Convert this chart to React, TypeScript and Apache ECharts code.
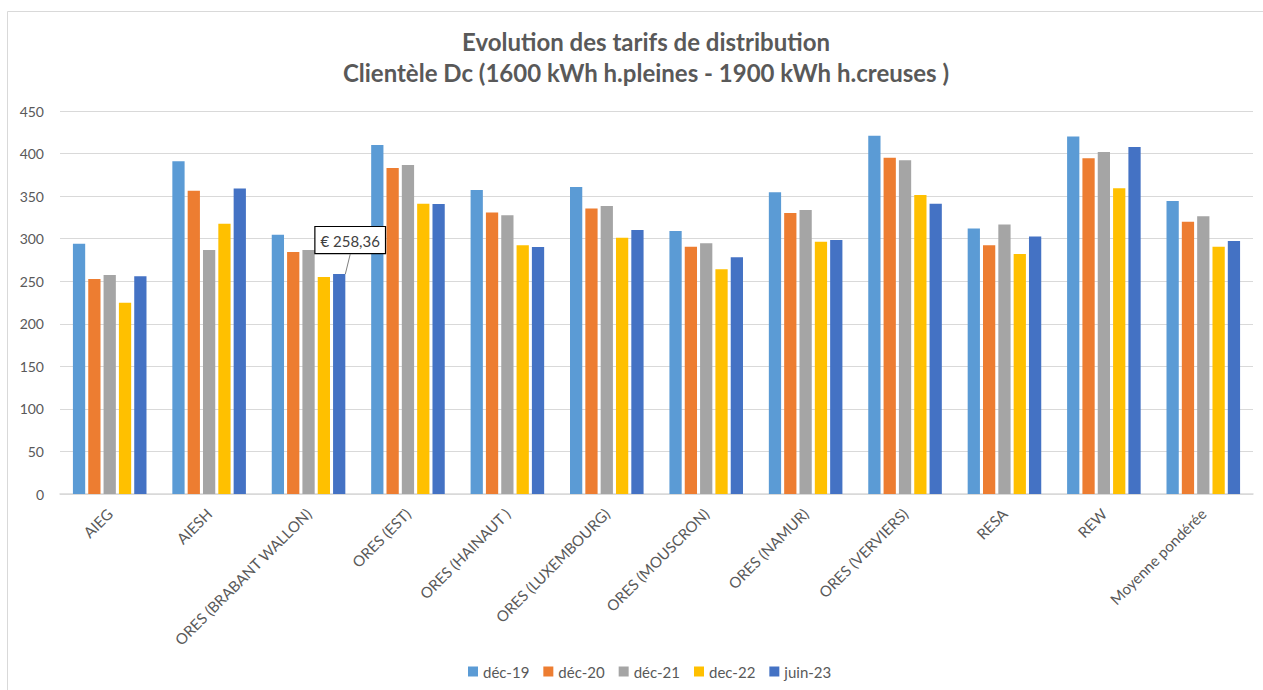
import React, { useEffect, useRef } from "react";
import * as echarts from "echarts";

const categories = [
  "AIEG",
  "AIESH",
  "ORES (BRABANT WALLON)",
  "ORES (EST)",
  "ORES (HAINAUT )",
  "ORES (LUXEMBOURG)",
  "ORES (MOUSCRON)",
  "ORES (NAMUR)",
  "ORES (VERVIERS)",
  "RESA",
  "REW",
  "Moyenne pondérée",
];

const seriesNames = ["déc-19", "déc-20", "déc-21", "dec-22", "juin-23"];

const dec19 = [294, 391, 304.7, 410, 357.2, 360.8, 309, 354.5, 421, 311.8, 419.9, 344.3];
const dec20 = [252.6, 356.4, 284.4, 383, 330.6, 335.3, 290.6, 330.2, 395.2, 292.2, 394.5, 320];
const dec21 = [257.3, 286.7, 286.7, 386.6, 327.5, 338.4, 294.5, 333.7, 392, 316.5, 401.9, 326.3];
const dec22 = [224.8, 317.6, 255, 341, 292.2, 301.2, 264, 296.5, 351.3, 282, 359.2, 290.6];
const juin23 = [255.8, 358.8, 258.36, 340.8, 290.2, 310.2, 278.1, 298.5, 341.1, 302.4, 407.8, 297.3];

const yTicks = { min: 0, max: 450, interval: 50 };
const annotatedIndex = 2;

const colors = ["#5B9BD5", "#ED7D31", "#A5A5A5", "#FFC000", "#4472C4"];
const FONT = "Lato, 'Open Sans', sans-serif";
const TEXT = "#595959";

export default function App() {
  const ref = useRef<HTMLDivElement>(null);

  useEffect(() => {
    if (!ref.current) return;
    const chart = echarts.init(ref.current, undefined, { renderer: "svg" });
    const allData = [dec19, dec20, dec21, dec22, juin23];
    const series = allData.map((d, si) => {
      const isLast = si === allData.length - 1;
      return {
        name: seriesNames[si],
        type: "bar",
        barGap: "25%",
        barCategoryGap: "26%",
        itemStyle: { color: colors[si] },
        data: d.map((v, i) =>
          isLast && i === annotatedIndex
            ? {
                value: v,
                label: {
                  show: true,
                  position: "top",
                  formatter: (p: any) =>
                    "€ " + Number(p.value).toFixed(2).replace(".", ","),
                  fontFamily: FONT,
                  fontSize: 15,
                  color: "#404040",
                  backgroundColor: "#fff",
                  borderColor: "#000",
                  borderWidth: 1.2,
                  padding: [6, 5, 5, 5],
                },
              }
            : v
        ),
        ...(isLast
          ? {
              labelLayout: { dx: 11, dy: -16 },
              labelLine: {
                show: true,
                lineStyle: { color: "#7f7f7f", width: 1 },
              },
            }
          : {}),
      };
    });

    chart.setOption({
      animation: false,
      backgroundColor: "#fff",
      color: colors,
      title: {
        text: "Evolution des tarifs de distribution\nClientèle Dc (1600 kWh h.pleines - 1900 kWh h.creuses )",
        left: 641,
        textAlign: "center",
        top: 21,
        textStyle: {
          fontFamily: FONT,
          fontSize: 24,
          fontWeight: "bold",
          color: TEXT,
          lineHeight: 31,
        },
      },
      graphic: [
        {
          type: "rect",
          shape: { x: 7.5, y: 11.5, width: 1300, height: 700 },
          style: { fill: "none", stroke: "#d9d9d9", lineWidth: 1 },
          silent: true,
        },
      ],
      legend: {
        top: 659,
        left: 463,
        itemWidth: 10,
        itemHeight: 10,
        itemGap: 14,
        icon: "rect",
        textStyle: { fontFamily: FONT, fontSize: 15, color: TEXT },
        data: seriesNames,
      },
      grid: { left: 60, right: 10, top: 111, bottom: 196 },
      xAxis: {
        type: "category",
        data: categories,
        axisTick: { show: false },
        axisLine: { lineStyle: { color: "#d9d9d9", width: 1.5 } },
        axisLabel: {
          rotate: 45,
          interval: 0,
          margin: 17,
          fontFamily: FONT,
          fontSize: 15,
          color: TEXT,
        },
      },
      yAxis: {
        type: "value",
        min: yTicks.min,
        max: yTicks.max,
        interval: yTicks.interval,
        axisLine: { show: false },
        axisTick: { show: false },
        axisLabel: { fontFamily: FONT, fontSize: 14, color: TEXT, margin: 16 },
        splitLine: { lineStyle: { color: "#d9d9d9", width: 1 } },
      },
      series,
    });
    return () => chart.dispose();
  }, []);

  return (
    <div
      ref={ref}
      style={{ position: "absolute", left: 0, top: 0, width: 1263, height: 690 }}
    />
  );
}
